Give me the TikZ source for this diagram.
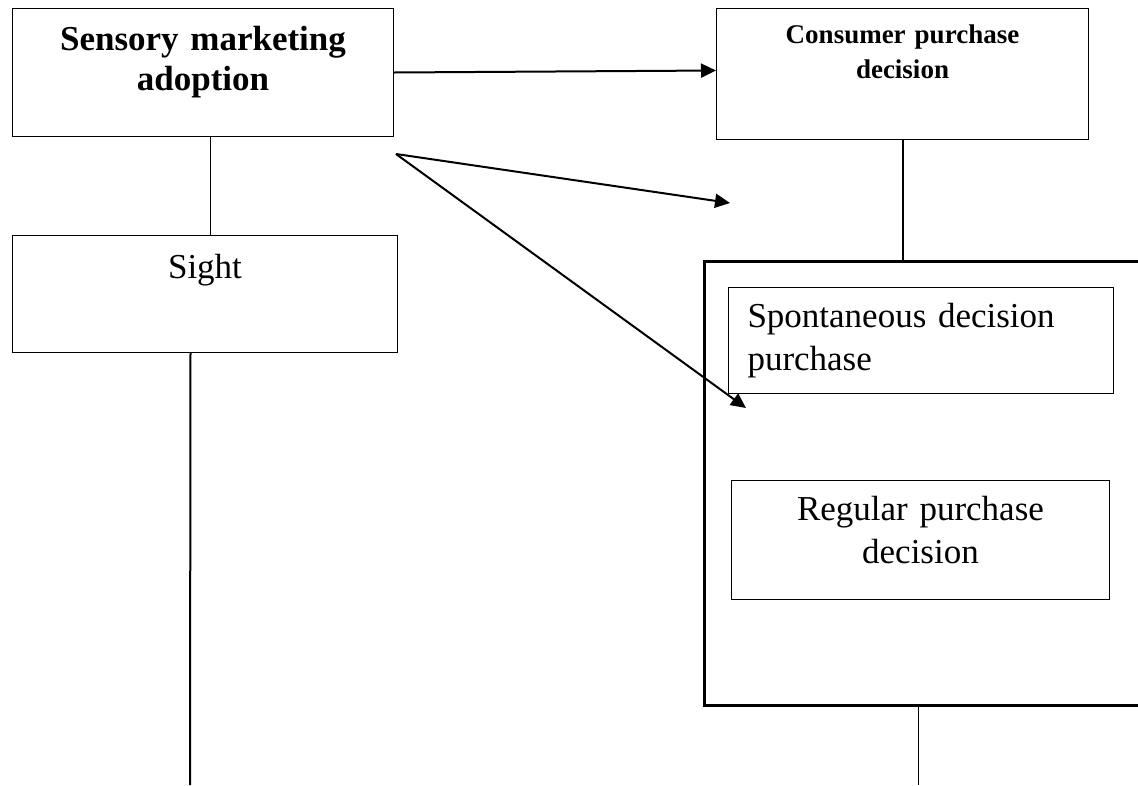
\documentclass[tikz,border=0pt]{standalone}
\usepackage{fontspec}
\setmainfont{Liberation Serif}
\usetikzlibrary{arrows.meta,positioning,calc}

\begin{document}
\begin{tikzpicture}[
        x=1pt, y=-1pt,
        box/.style={draw, rectangle, inner sep=0pt, align=center, anchor=north west, line width=1pt},
        big/.style={font=\fontsize{35pt}{40pt}\selectfont\bfseries},
        txt/.style={font=\fontsize{35pt}{43pt}\selectfont},
        arr/.style={-{Triangle[length=15pt, width=14pt]}, line width=2pt}
    ]
        \useasboundingbox (0,0) rectangle (1138,785);
        \clip (0,0) rectangle (1138,785);

        \node[box, big, text width=381pt, text height=42pt, text depth=86pt] (adopt) at (12,8) {Sensory marketing\\adoption};
        \node[box, txt, text width=385pt, text height=43pt, text depth=74pt] (sight) at (12,235) {Sight};
        \node[box, font=\fontsize{27pt}{35pt}\selectfont\bfseries, text width=372pt, text height=35pt, text depth=96pt] (cons) at (716,8) {Consumer purchase\\decision};

        % frame around the two kinds of decision
        \node[draw, line width=2.5pt, inner sep=0pt, minimum width=447pt, minimum height=444pt, anchor=north west] (frame) at (703,260) {};
        \node[box, txt, align=left, inner xsep=19pt, text width=347pt, text height=40pt, text depth=66pt] (spont) at (728,287) {Spontaneous decision\\purchase};
        \node[box, txt, text width=378pt, text height=40pt, text depth=79pt] (reg) at (731,480) {Regular purchase\\decision};

        \coordinate (fork) at ([shift={(2pt,-17pt)}]adopt.south east);
        \coordinate (tip1) at (730,203);
        \coordinate (tip2) at (746,408);
        \coordinate (stem) at ([xshift=7pt]adopt.south);
        \coordinate (sightend) at (190,785);
        \coordinate (frameend) at (918,785);

        \draw[arr] (adopt.east) -- ([yshift=3.5pt]cons.west);
        \draw[arr] (fork) -- (tip1);
        \draw[arr] (fork) -- (tip2);

        \draw[line width=1pt] (stem) -- (stem |- sight.north);
        \draw[line width=2pt] ([xshift=-14.5pt]sight.south) -- (sightend);
        \draw[line width=2pt] (cons.south) -- (cons.south |- frame.north);
        \draw[line width=1pt] (frame.south -| frameend) -- (frameend);
    \end{tikzpicture}
\end{document}
